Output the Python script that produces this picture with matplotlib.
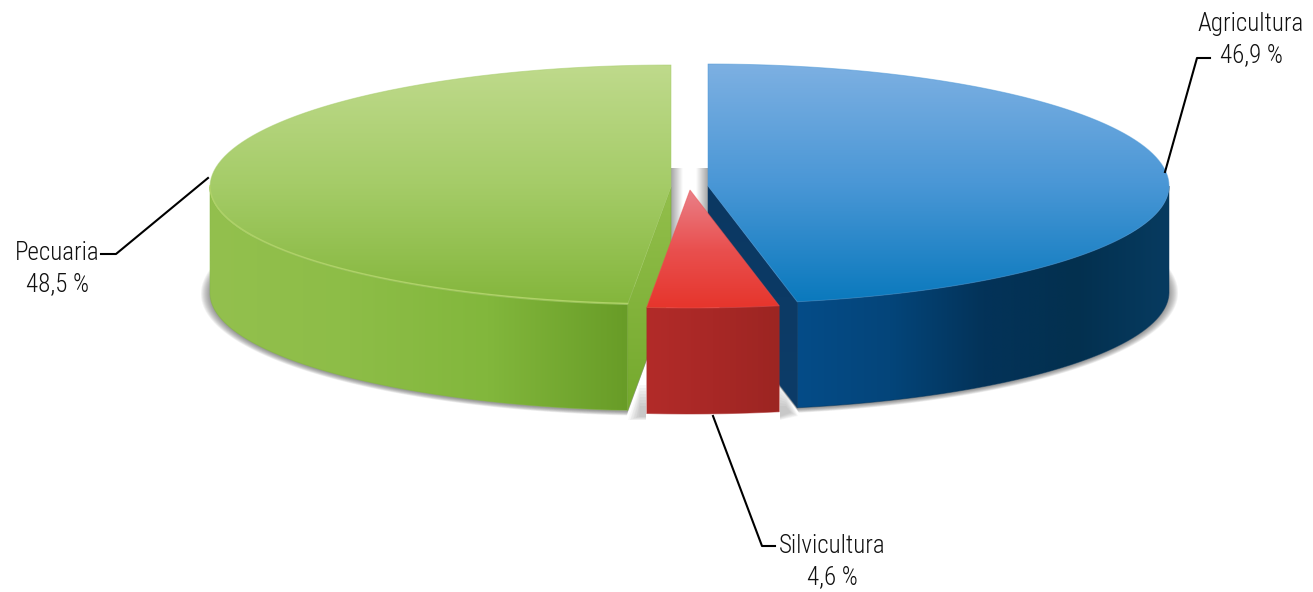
import numpy as np
import matplotlib
matplotlib.use("Agg")
import matplotlib.pyplot as plt
from matplotlib.colors import LinearSegmentedColormap
from matplotlib.patches import PathPatch, Polygon
from matplotlib.path import Path

plt.rcParams['font.family'] = ['Roboto Condensed', 'DejaVu Sans']

# pie values, clockwise from the top
names = ["Agricultura", "Silvicultura", "Pecuaria"]
values = [46.9, 4.6, 48.5]

# layout of the fake 3d pie, in pixels
centers = [(708, 186), (690, 190), (671, 187)]
rx = 461
ry_back = 122
ry_front = 118
depth = 106

top_colors = [["#7db0e2", "#4a97d6", "#0a79bd"],
              ["#ea8088", "#e9504f", "#e6352c"],
              ["#bfda8c", "#a5cc68", "#84b63c"]]
wall_colors = [["#054c88", "#04457a", "#033359", "#03304f", "#073b60"],
               ["#b22b29", "#a82826", "#9c2522"],
               ["#93c04e", "#8dbd47", "#82b73c", "#689c27"]]
inner_colors = [["#0b3862", "#0d3c68"], ["#a82826", "#a82826"], ["#93bf4c", "#74a92d"]]


def arc(center, a0, a1, n=200, dx=0, dy=0):
    t = np.radians(np.linspace(a0, a1, n))
    ry = np.where(np.sin(t) > 0, ry_back, ry_front)
    return np.column_stack([center[0] + (rx + dx) * np.cos(t),
                            center[1] - (ry + dy) * np.sin(t)])


def fill_gradient(ax, pts, colors, vertical=True, zorder=2):
    pts = np.asarray(pts)
    x0, y0 = pts.min(axis=0)
    x1, y1 = pts.max(axis=0)
    cmap = LinearSegmentedColormap.from_list("g", colors)
    ramp = np.linspace(0, 1, 256)
    ramp = ramp[:, None] if vertical else ramp[None, :]
    im = ax.imshow(ramp, cmap=cmap, extent=(x0, x1, y1, y0), aspect="auto",
                   origin="upper", zorder=zorder, interpolation="bilinear")
    patch = PathPatch(Path(np.vstack([pts, pts[0]])), transform=ax.transData,
                      facecolor="none", edgecolor="none")
    im.set_clip_path(patch)
    # soften the hard clip edge
    ax.add_patch(Polygon(pts, closed=True, fill=False, lw=0.7,
                         edgecolor=colors[len(colors) // 2], alpha=0.5, zorder=zorder))


fig = plt.figure(figsize=(13.13, 5.92), dpi=100)
ax = fig.add_axes([0, 0, 1, 1])

# angles come from the values
cum = np.cumsum(values) * 3.6
starts = 90 - np.concatenate([[0], cum[:-1]])
ends = 90 - cum

# ground shadow under the front walls
for grow in range(9, -1, -1):
    for k, a0, a1 in [(0, 35, ends[0]), (2, starts[2], -215)]:
        c = (centers[k][0], centers[k][1] + depth + 1)
        low = arc(c, a0, a1, dx=grow, dy=grow * 0.45)
        pts = np.vstack([low, [c]])
        ax.add_patch(Polygon(pts, closed=True, color="#444444", alpha=0.07, lw=0, zorder=1))

# small shadows around the red block
for i in range(8):
    ax.add_patch(Polygon([[640, 385 + i * 3], [646, 385 + i * 3], [646, 420 - i * 0.5], [628 + i * 1.5, 420 - i * 0.5]],
                         closed=True, color="#666666", alpha=0.05, lw=0, zorder=1))
    ax.add_patch(Polygon([[780, 385 + i * 3], [786, 392 + i * 2], [798 - i, 416 - i * 0.5], [780, 420 - i * 0.5]],
                         closed=True, color="#666666", alpha=0.05, lw=0, zorder=1))

# gap shadows between the two big slices
for x0, x1 in [(671, 683), (708, 696)]:
    rgba = np.full((2, 64, 4), 0.45)
    rgba[..., 3] = np.linspace(0.65, 0, 64)[None, :]
    ax.imshow(rgba, extent=(x0, x1, 290, 168), aspect="auto", origin="upper", zorder=1)

# green at the back, then blue, red last
for z, k in enumerate([2, 0, 1]):
    c = centers[k]
    a0, a1 = starts[k], ends[k]
    zorder = 3 + z

    # outer wall is only the part of the rim that faces us
    edge = arc(c, min(a0, 0), max(a1, -180))
    wall = np.vstack([edge, (edge + [0, depth])[::-1]])
    fill_gradient(ax, wall, wall_colors[k], vertical=False, zorder=zorder)

    apex = np.array(c, dtype=float)
    if k != 1:
        # the cut side that shows next to the red slice
        end = arc(c, a1, a1, n=1)[0] if k == 0 else arc(c, a0, a0, n=1)[0]
        inner = np.array([apex, end, end + [0, depth], apex + [0, depth]])
        fill_gradient(ax, inner, inner_colors[k], vertical=True, zorder=zorder)

    face = np.vstack([arc(c, a0, a1), apex])
    fill_gradient(ax, face, top_colors[k], vertical=True, zorder=zorder)

    if k == 2:
        # light rim on the green top
        rim = arc(c, a0, -180) + [0, -1]
        ax.plot(rim[:, 0], rim[:, 1], color="#afd268", lw=1.0, zorder=zorder)

# leader lines
leaders = [([1165, 1197, 1210], [172, 58, 58]),
           ([713, 762, 775], [416, 546, 546]),
           ([208, 116, 101], [178, 254, 254])]
for lx, ly in leaders:
    ax.plot(lx, ly, color="black", lw=1.5, solid_joinstyle="round", zorder=8)

label_pos = [(1251, 24, 55), (832, 546, 577), (57, 253, 284)]
for name, val, (tx, y0, y1) in zip(names, values, label_pos):
    pct = f"{val:.1f} %".replace(".", ",")
    ax.text(tx, y0, name, fontsize=18, fontweight=300, color="#111111",
            ha="center", va="center", zorder=9)
    ax.text(tx, y1, pct, fontsize=18, fontweight=300, color="#111111",
            ha="center", va="center", zorder=9)

ax.set_xlim(0, 1313)
ax.set_ylim(592, 0)
ax.axis("off")
fig.savefig("out.png", dpi=100)
